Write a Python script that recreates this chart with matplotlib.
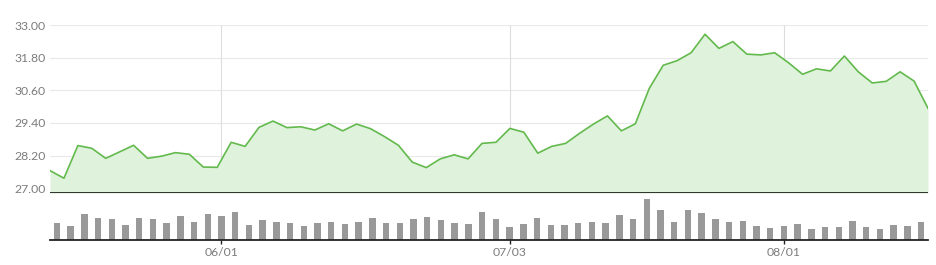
import matplotlib
matplotlib.use('Agg')
import matplotlib.pyplot as plt
import numpy as np

plt.rcParams['font.family'] = ['Lato', 'DejaVu Sans']

# daily close prices (64 trading days)
prices = [27.65, 27.37, 28.57, 28.47, 28.10, 28.34, 28.58, 28.10, 28.18, 28.31,
          28.25, 27.78, 27.77, 28.69, 28.54, 29.24, 29.47, 29.23, 29.26, 29.14,
          29.37, 29.11, 29.36, 29.19, 28.90, 28.58, 27.96, 27.76, 28.08, 28.23,
          28.08, 28.65, 28.69, 29.20, 29.06, 28.29, 28.54, 28.65, 29.02, 29.36,
          29.66, 29.11, 29.37, 30.67, 31.52, 31.69, 31.98, 32.66, 32.14, 32.39,
          31.93, 31.90, 31.98, 31.61, 31.19, 31.39, 31.31, 31.86, 31.28, 30.87,
          30.93, 31.28, 30.94, 29.94]

# daily volume (relative units)
volumes = [50, 43, 78, 65, 63, 46, 65, 63, 52, 73,
           54, 78, 73, 84, 45, 60, 55, 52, 43, 52,
           54, 49, 54, 66, 50, 50, 64, 70, 59, 50,
           49, 85, 63, 39, 49, 66, 44, 46, 51, 54,
           50, 74, 63, 123, 89, 54, 89, 81, 64, 53,
           57, 42, 36, 42, 49, 34, 39, 40, 57, 38,
           33, 45, 42, 53]

y_ticks = [27.00, 28.20, 29.40, 30.60, 31.80, 33.00]
tick_idx = [12, 33, 53]
tick_labels = ['06/01', '07/03', '08/01']

W, H = 937, 265
fig = plt.figure(figsize=(W / 100, H / 100), dpi=100)

left, right = 50 / W, 928 / W
ax = fig.add_axes([left, 1 - 193.3 / H, right - left, (193.3 - 25) / H])
axv = fig.add_axes([left, 1 - 240 / H, right - left, (240 - 196) / H])

n = len(prices)
x = np.arange(n)
ybot = 26.816

# price panel
ax.fill_between(x, prices, ybot, color='#dff3dc', lw=0, zorder=2)
ax.plot(x, prices, color='#62b94c', lw=1.2, zorder=3)
ax.set_xlim(0, n - 1)
ax.set_ylim(ybot, 33.0)
ax.set_yticks(y_ticks)
ax.set_yticklabels(['%.2f' % v for v in y_ticks])
ax.set_xticks([])
for v in y_ticks:
    ax.axhline(v, color='#e9e9e9', lw=0.8, zorder=1)
# vertical grid lines line up with the bar centres below
vx = [(i + 0.5) * (n - 1) / n for i in tick_idx]
ax.vlines(vx, 27.0, 33.0, color='#dddddd', lw=0.8, zorder=1)
ax.axhline(ybot, color='#222222', lw=1.3, zorder=4)
for s in ax.spines.values():
    s.set_visible(False)
ax.tick_params(axis='y', length=0, pad=3, labelsize=8.8, labelcolor='#7c7c7c')

# volume panel
axv.bar(x, volumes, width=0.47, color='#999999', zorder=2)
axv.set_xlim(-0.5, n - 0.5)
axv.set_ylim(0, 132)
axv.set_yticks([])
axv.set_xticks(tick_idx)
axv.set_xticklabels(tick_labels)
for k in ['top', 'left', 'right']:
    axv.spines[k].set_visible(False)
axv.spines['bottom'].set_color('#222222')
axv.spines['bottom'].set_linewidth(1.3)
axv.tick_params(axis='x', length=3, width=1, color='#222222', pad=2,
                labelsize=8.8, labelcolor='#7c7c7c')

fig.savefig('out.png', dpi=100)
